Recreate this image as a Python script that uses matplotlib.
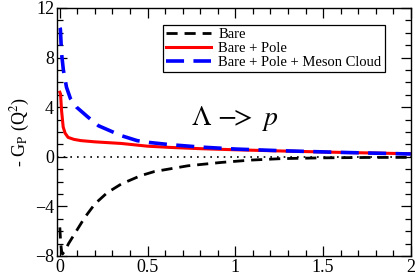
import matplotlib
matplotlib.use("Agg")
import matplotlib.pyplot as plt

plt.rcParams['font.family'] = ['Liberation Serif', 'DejaVu Serif']
plt.rcParams['mathtext.fontset'] = 'stix'

# Bare
bare_x = [0.0, 0.005, 0.01, 0.015, 0.028, 0.05, 0.085, 0.142, 0.2, 0.27, 0.35,
          0.46, 0.54, 0.73, 0.92, 1.09, 1.27, 1.5, 1.75, 2.0]
bare_y = [-5.7, -7.0, -7.6, -7.85, -7.6, -7.0, -6.2, -4.9, -3.8, -2.9, -2.2,
          -1.53, -1.19, -0.73, -0.46, -0.27, -0.15, -0.09, -0.06, -0.05]

# Bare + Pole
pole_x = [0.0, 0.004, 0.01, 0.019, 0.03, 0.047, 0.08, 0.12, 0.2, 0.35, 0.5,
          0.63, 0.8, 1.0, 1.27, 1.6, 2.0]
pole_y = [5.2, 5.05, 3.7, 2.4, 1.9, 1.56, 1.4, 1.3, 1.2, 1.07, 0.85,
          0.75, 0.65, 0.56, 0.46, 0.35, 0.24]

# Bare + Pole + Meson Cloud
cloud_x = [0.0, 0.003, 0.01, 0.02, 0.038, 0.06, 0.095, 0.16, 0.22, 0.35, 0.44,
           0.51, 0.63, 0.8, 1.0, 1.27, 1.6, 2.0]
cloud_y = [10.4, 10.3, 8.3, 7.0, 5.6, 4.7, 4.0, 3.2, 2.5, 1.7, 1.3,
           1.15, 0.97, 0.78, 0.62, 0.48, 0.35, 0.22]

fig = plt.figure(figsize=(4.15, 2.74), dpi=100)
ax = fig.add_axes([0.137, 0.066, 0.853, 0.905])

ax.axhline(0, color='black', lw=1.2, ls=(0, (1, 3)))
ax.plot(bare_x, bare_y, color='black', lw=2, ls=(0, (4, 2.5)), label='Bare')
ax.plot(pole_x, pole_y, color='red', lw=2.2, label='Bare + Pole')
ax.plot(cloud_x, cloud_y, color='blue', lw=2.6, ls=(0, (5, 2.6)),
        label='Bare + Pole + Meson Cloud')

ax.set_xlim(-0.017, 2.0)
ax.set_ylim(-8, 12)
ax.set_xticks([0, 0.5, 1, 1.5, 2])
ax.set_xticklabels(['0', '0.5', '1', '1.5', '2'])
ax.set_yticks([-8, -4, 0, 4, 8, 12])
ax.set_xticks([i / 10 for i in range(0, 21)], minor=True)
ax.set_yticks(range(-8, 13), minor=True)
ax.tick_params(which='both', direction='in', top=True, right=True,
               labelsize=13, width=0.9)
ax.tick_params(which='major', length=7, pad=2)
ax.tick_params(which='minor', length=4)
for s in ax.spines.values():
    s.set_linewidth(1)

ax.set_ylabel(r'- G$_\mathrm{P}$ (Q$^2$)', fontsize=13, labelpad=2)

ax.text(0.75, 3.1, r'$\Lambda$ $\mathrm{-\!\!>}$ $p$', fontsize=20,
        ha='left', va='center')

leg = ax.legend(loc='upper left', bbox_to_anchor=(0.30, 0.93), fontsize=10.5,
                handlelength=3.1, labelspacing=0.05, borderpad=0.2,
                handletextpad=0.5, fancybox=False, framealpha=1,
                edgecolor='black', borderaxespad=0)
leg.get_frame().set_linewidth(0.9)

fig.savefig('out.png', dpi=100)
